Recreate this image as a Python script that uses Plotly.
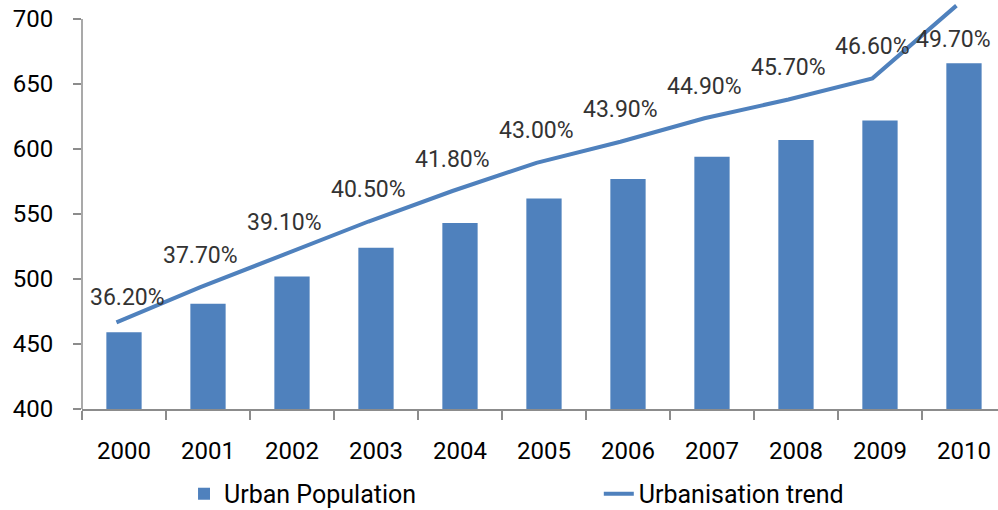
import plotly.graph_objects as go

years = [2000, 2001, 2002, 2003, 2004, 2005, 2006, 2007, 2008, 2009, 2010]
urban_population = [459, 481, 502, 524, 543, 562, 577, 594, 607, 622, 666]
urbanisation_rate = [36.2, 37.7, 39.1, 40.5, 41.8, 43.0, 43.9, 44.9, 45.7, 46.6, 49.7]
y_ticks = [400, 450, 500, 550, 600, 650, 700]

BLUE = "#4F81BD"
AXIS = "#8c8c8c"
FONT = "Roboto"

fig = go.Figure()
fig.add_trace(go.Bar(
    x=[str(y) for y in years], y=urban_population, name="Urban Population",
    marker=dict(color=BLUE, line=dict(width=0)), width=0.42,
    legend="legend", showlegend=True,
))
fig.add_trace(go.Scatter(
    x=years, y=urbanisation_rate, name="Urbanisation trend", mode="lines",
    line=dict(color=BLUE, width=4), xaxis="x2", yaxis="y2",
    legend="legend2", cliponaxis=False, showlegend=True,
))

shifts = {0: (11, 25), len(years) - 1: (-3, -34)}
for i, (yr, v) in enumerate(zip(years, urbanisation_rate)):
    xs, ys = shifts.get(i, (0, 32))
    fig.add_annotation(x=yr, y=v, xref="x2", yref="y2", text=f"{v:.2f}%",
                       showarrow=False, xshift=xs, yshift=ys,
                       font=dict(family=FONT, size=23, color="#333333"))

fig.add_shape(type="line", xref="paper", yref="y", x0=0, x1=0, y0=400, y1=700,
              line=dict(color=AXIS, width=1.5))

fig.update_layout(
    width=998, height=510, margin=dict(l=82, r=0, t=0, b=101),
    paper_bgcolor="white", plot_bgcolor="white",
    font=dict(family=FONT, color="#000000"),
    showlegend=True,
    xaxis=dict(type="category", range=[-0.5, 10.405], showgrid=False,
               showline=True, linecolor=AXIS, linewidth=1.5,
               ticks="outside", tickson="boundaries", ticklen=9, tickcolor=AXIS,
               tickwidth=1.5, tickfont=dict(size=24, color="#000"),
               ticklabelstandoff=19),
    xaxis2=dict(overlaying="x", range=[1999.5 + 0.09, 2010.405 + 0.09],
                visible=False),
    yaxis=dict(range=[400, 714.6], tickvals=y_ticks, showgrid=False,
               zeroline=False, showline=False, ticks="outside", ticklen=8,
               tickcolor=AXIS, tickwidth=1.5,
               tickfont=dict(size=24, color="#000"), ticklabelstandoff=15),
    yaxis2=dict(overlaying="y", range=[32.51, 49.94], visible=False),
    legend=dict(orientation="h", xref="container", yref="container",
                x=0.1844, xanchor="left", y=0.0314, yanchor="middle",
                font=dict(size=25, color="#000"), bgcolor="rgba(0,0,0,0)"),
    legend2=dict(orientation="h", xref="container", yref="container",
                 x=0.600, xanchor="left", y=0.0314, yanchor="middle",
                 font=dict(size=25, color="#000"), bgcolor="rgba(0,0,0,0)"),
)

fig.write_html("out.html")
